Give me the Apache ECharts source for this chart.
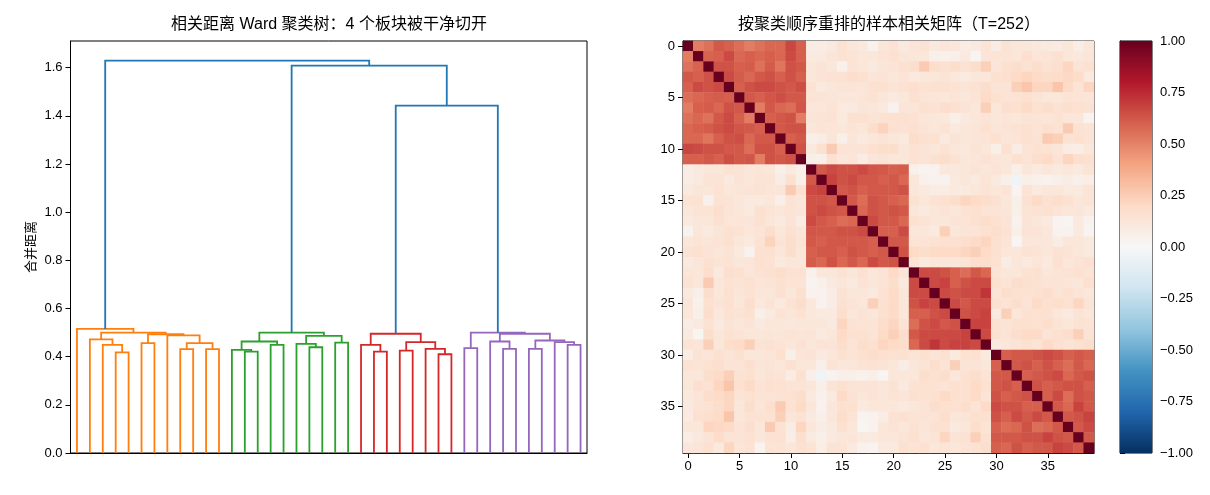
<!DOCTYPE html>
<html>
<head>
<meta charset="utf-8">
<script src="https://cdn.jsdelivr.net/npm/echarts@6/dist/echarts.min.js"></script>
<style>
html, body { margin: 0; padding: 0; background: #fff; }
#c_chart { width: 1210px; height: 495px; }
</style>
</head>
<body>
<div id="c_chart"></div>
<script>
// leaves are numbered in display order 0..39; merged nodes get ids 40, 41, ...
const leafCount = 40;
const clusterSizes = [12, 10, 8, 10];
const clusterColors = ['#ff7f0e', '#2ca02c', '#d62728', '#9467bd'];
const aboveColor = '#1f77b4';
const colorThreshold = 1.14;
const merges = [
    [3, 4, 0.418], [2, 40, 0.449], [1, 41, 0.472], [5, 6, 0.456], [8, 9, 0.431],
    [10, 11, 0.431], [44, 45, 0.456], [7, 46, 0.488], [43, 47, 0.493], [42, 48, 0.500],
    [0, 49, 0.515],
    [13, 14, 0.421], [12, 51, 0.428], [15, 16, 0.449], [52, 53, 0.463], [18, 19, 0.439],
    [17, 55, 0.453], [20, 21, 0.458], [56, 57, 0.486], [54, 58, 0.500],
    [23, 24, 0.421], [22, 60, 0.449], [25, 26, 0.425], [28, 29, 0.410], [27, 63, 0.432],
    [62, 64, 0.460], [61, 65, 0.495],
    [30, 31, 0.435], [33, 34, 0.432], [32, 68, 0.463], [35, 36, 0.432], [38, 39, 0.449],
    [37, 71, 0.460], [70, 72, 0.467], [69, 73, 0.495], [67, 74, 0.500],
    [66, 75, 1.442], [59, 76, 1.608], [50, 77, 1.629]
];
const distTicks = [0, 0.2, 0.4, 0.6, 0.8, 1.0, 1.2, 1.4, 1.6];

// upper triangle of the reordered correlation matrix, row i holds columns i+1..39
const corrUpper = [
    [.52,.55,.62,.60,.56,.52,.55,.58,.58,.67,.60, .08,.08,.10,.15,.12,.10,.04,.12,.15,.10, .13,.15,.10,.13,.12,.08,.10,.14, .08,.15,.12,.12,.11,.10,.09,.12,.07,.12],
    [.59,.60,.66,.58,.60,.58,.60,.58,.66,.60, .10,.10,.13,.15,.14,.12,.12,.14,.16,.13, .12,.12,.06,.05,.06,.10,.02,.13, .14,.14,.12,.17,.13,.14,.16,.12,.11,.13],
    [.64,.64,.60,.61,.55,.61,.54,.64,.62, .12,.14,.12,.05,.14,.12,.10,.13,.14,.16, .18,.26,.18,.16,.18,.15,.18,.24, .13,.16,.18,.15,.18,.15,.17,.22,.14,.16],
    [.66,.61,.58,.62,.64,.60,.64,.60, .12,.14,.15,.15,.18,.16,.13,.14,.12,.14, .10,.12,.12,.14,.11,.10,.12,.12, .16,.17,.20,.22,.20,.18,.19,.21,.19,.10],
    [.60,.64,.66,.66,.64,.62,.65, .15,.10,.12,.14,.14,.13,.16,.16,.14,.15, .17,.15,.16,.16,.15,.14,.15,.18, .14,.14,.24,.28,.22,.22,.28,.20,.14,.22],
    [.62,.60,.63,.65,.62,.62, .14,.14,.13,.12,.12,.13,.15,.12,.10,.12, .16,.14,.13,.12,.14,.12,.14,.20, .16,.14,.15,.16,.14,.12,.12,.14,.14,.13],
    [.52,.62,.58,.56,.63, .12,.12,.14,.10,.10,.13,.12,.10,.04,.13, .13,.16,.15,.18,.16,.14,.12,.24, .12,.17,.16,.20,.16,.18,.15,.17,.16,.15],
    [.60,.62,.64,.52, .13,.14,.15,.10,.16,.16,.14,.15,.16,.16, .15,.13,.12,.11,.06,.10,.12,.14, .12,.13,.12,.14,.14,.13,.15,.12,.12,.03],
    [.62,.64,.64, .12,.14,.13,.12,.14,.12,.18,.23,.16,.15, .16,.14,.12,.14,.10,.12,.13,.16, .13,.14,.15,.16,.14,.17,.15,.26,.15,.14],
    [.60,.62, .06,.08,.13,.06,.13,.10,.12,.14,.12,.10, .18,.16,.16,.10,.14,.12,.13,.14, .16,.13,.14,.16,.15,.26,.24,.15,.16,.14],
    [.64, .10,.16,.26,.14,.14,.14,.16,.18,.18,.12, .15,.14,.12,.15,.12,.11,.14,.12, .06,.16,.08,.14,.16,.15,.13,.08,.07,.12],
    [.06,.06,.16,.12,.13,.08,.13,.14,.12,.12, .15,.14,.16,.18,.15,.12,.13,.15, .13,.12,.16,.14,.18,.20,.15,.22,.17,.16],
    [.62,.66,.64,.64,.66,.63,.62,.60,.61, .05,.03,.04,.11,.11,.12,.14,.12, .14,.12,.06,.12,.10,.12,.10,.12,.10,.14],
    [.68,.64,.66,.62,.62,.60,.62,.58, .12,.05,.04,.04,.10,.12,.10,.14, .10,.06,-.04,.06,.05,.04,.06,.08,.06,.07],
    [.62,.64,.60,.62,.62,.62,.64, .12,.10,.08,.08,.10,.10,.12,.14, .12,.14,.03,.14,.10,.12,.12,.10,.10,.14],
    [.62,.56,.64,.62,.60,.58, .15,.12,.15,.16,.18,.22,.20,.18, .16,.12,.06,.16,.20,.16,.18,.16,.12,.14],
    [.58,.64,.62,.64,.62, .12,.10,.12,.14,.12,.15,.16,.14, .14,.13,.06,.14,.15,.16,.14,.12,.13,.10],
    [.66,.62,.62,.58, .16,.14,.12,.12,.14,.14,.16,.18, .16,.14,.04,.14,.12,.10,.03,.02,.10,.04],
    [.60,.60,.66, .12,.12,.10,.24,.12,.14,.14,.16, .18,.15,.06,.14,.14,.12,.04,.04,.10,.03],
    [.62,.62, .14,.14,.15,.16,.16,.18,.20,.22, .16,.14,.02,.12,.12,.12,.08,.12,.12,.10],
    [.64, .20,.18,.20,.20,.20,.22,.24,.20, .16,.12,.12,.15,.14,.12,.15,.14,.12,.10],
    [.14,.10,.12,.12,.12,.14,.18,.18, .16,.08,.12,.10,.13,.10,.16,.12,.14,.16],
    [.66,.66,.64,.60,.56,.62,.58, .14,.12,.12,.15,.16,.12,.14,.15,.16,.14],
    [.66,.68,.60,.64,.66,.66, .16,.14,.18,.16,.15,.14,.14,.13,.12,.16],
    [.66,.64,.66,.66,.72, .14,.18,.16,.15,.16,.18,.14,.16,.14,.12],
    [.66,.62,.66,.66, .16,.14,.18,.14,.20,.16,.18,.16,.22,.14],
    [.64,.66,.68, .10,.24,.12,.16,.16,.16,.12,.10,.14,.12],
    [.68,.68, .15,.14,.16,.16,.16,.18,.14,.12,.15,.14],
    [.66, .16,.14,.18,.20,.20,.14,.16,.18,.24,.15],
    [.10,.12,.14,.16,.14,.20,.16,.14,.16,.18],
    [.60,.62,.62,.64,.66,.64,.60,.62,.60],
    [.62,.64,.60,.64,.60,.56,.62,.58],
    [.60,.62,.64,.66,.58,.62,.64],
    [.64,.60,.62,.64,.64,.60],
    [.60,.66,.56,.64,.62],
    [.62,.58,.68,.62],
    [.62,.64,.68],
    [.62,.66],
    [.62]
];
const corrRange = [-1, 1];
const corrTickStep = 0.25;
const rdbuR = ['#053061', '#2166ac', '#4393c3', '#92c5de', '#d1e5f0', '#f7f7f7',
               '#fddbc7', '#f4a582', '#d6604d', '#b2182b', '#67001f'];

const fontFam = "'Liberation Sans', 'Noto Sans CJK SC', sans-serif";

// dendrogram geometry (scipy style: leaf i at 5 + 10 i, link x = midpoint of children)
var nodeX = [], nodeY = [], firstLeaf = [];
for (var i = 0; i < leafCount; i++) {
    nodeX[i] = 5 + 10 * i;
    nodeY[i] = 0;
    firstLeaf[i] = i;
}
function clusterOf(leaf) {
    var acc = 0;
    for (var c = 0; c < clusterSizes.length; c++) {
        acc += clusterSizes[c];
        if (leaf < acc) return c;
    }
    return clusterSizes.length - 1;
}
var segs = {};
var maxH = 0;
merges.forEach(function (m, k) {
    var a = m[0], b = m[1], h = m[2];
    var id = leafCount + k;
    nodeX[id] = (nodeX[a] + nodeX[b]) / 2;
    nodeY[id] = h;
    firstLeaf[id] = firstLeaf[a];
    maxH = Math.max(maxH, h);
    var col = h < colorThreshold ? clusterColors[clusterOf(firstLeaf[a])] : aboveColor;
    if (!segs[col]) segs[col] = [];
    segs[col].push({coords: [[nodeX[a], nodeY[a]], [nodeX[a], h], [nodeX[b], h], [nodeX[b], nodeY[b]]]});
});
var dendroSeries = Object.keys(segs).map(function (col) {
    return {
        type: 'lines',
        coordinateSystem: 'cartesian2d',
        xAxisIndex: 0,
        yAxisIndex: 0,
        polyline: true,
        silent: true,
        lineStyle: {color: col, width: 1.8, opacity: 1},
        data: segs[col]
    };
});

// heatmap cells
var cells = [];
var idx = [];
for (var r = 0; r < leafCount; r++) {
    idx.push(String(r));
    for (var c = 0; c < leafCount; c++) {
        var v;
        if (r === c) v = 1;
        else if (r < c) v = corrUpper[r][c - r - 1];
        else v = corrUpper[c][r - c - 1];
        cells.push([c, r, v]);
    }
}

var dm = document.getElementById('c_chart');
var ch = echarts.init(dm, null, {renderer: 'canvas'});
var txt = {color: '#000', fontSize: 13, fontFamily: fontFam};
var blackLine = {show: true, lineStyle: {color: '#000', width: 1}};
var tick = {show: true, length: 5, lineStyle: {color: '#000', width: 1}};

var option = {
    animation: false,
    backgroundColor: '#fff',
    textStyle: {fontFamily: fontFam},
    title: [
        {text: '相关距离 Ward 聚类树：4 个板块被干净切开', left: 329, top: 17, padding: 0, textAlign: 'center',
         textStyle: {fontSize: 16, fontWeight: 'normal', color: '#000', fontFamily: fontFam}},
        {text: '按聚类顺序重排的样本相关矩阵（T=252）', left: 889, top: 17, padding: 0, textAlign: 'center',
         textStyle: {fontSize: 16, fontWeight: 'normal', color: '#000', fontFamily: fontFam}}
    ],
    grid: [
        {left: 70.5, top: 41, width: 516.5, height: 412, show: true, borderColor: '#000', borderWidth: 1},
        {left: 683, top: 41, width: 411, height: 412, show: true, borderColor: '#000', borderWidth: 1},
        {left: 1120, top: 41, width: 32, height: 412, show: true, borderColor: '#000', borderWidth: 1}
    ],
    xAxis: [
        {gridIndex: 0, type: 'value', min: 0, max: leafCount * 10, axisLine: blackLine,
         axisTick: {show: false}, axisLabel: {show: false}, splitLine: {show: false}},
        {gridIndex: 1, type: 'category', data: idx, position: 'bottom', axisLine: blackLine,
         axisTick: {show: true, length: 5, interval: 4, alignWithLabel: true, lineStyle: {color: '#000'}},
         axisLabel: Object.assign({interval: 4, margin: 7}, txt), splitLine: {show: false}},
        {gridIndex: 2, type: 'value', min: 0, max: 1, show: false}
    ],
    yAxis: [
        {gridIndex: 0, type: 'value', min: 0, max: maxH * 1.05, axisLine: blackLine,
         axisTick: Object.assign({customValues: distTicks}, tick),
         axisLabel: Object.assign({customValues: distTicks, margin: 8,
             formatter: function (v) { return v.toFixed(1); }}, txt),
         splitLine: {show: false},
         name: '合并距离', nameLocation: 'middle', nameGap: 33,
         nameTextStyle: {color: '#000', fontSize: 13, fontFamily: fontFam}},
        {gridIndex: 1, type: 'category', data: idx, inverse: true, axisLine: blackLine,
         axisTick: {show: true, length: 5, interval: 4, alignWithLabel: true, lineStyle: {color: '#000'}},
         axisLabel: Object.assign({interval: 4, margin: 8}, txt), splitLine: {show: false}},
        {gridIndex: 2, type: 'value', position: 'right', min: corrRange[0], max: corrRange[1],
         interval: corrTickStep, axisLine: blackLine, axisTick: tick, splitLine: {show: false},
         axisLabel: Object.assign({margin: 8, formatter: function (v) {
             return v.toFixed(2).replace('-', '\u2212');
         }}, txt)}
    ],
    visualMap: {
        show: false, type: 'continuous', min: corrRange[0], max: corrRange[1],
        seriesIndex: dendroSeries.length, dimension: 2,
        inRange: {color: rdbuR}
    },
    series: dendroSeries.concat([
        {
            type: 'heatmap',
            xAxisIndex: 1,
            yAxisIndex: 1,
            data: cells,
            progressive: 0,
            silent: true,
            emphasis: {disabled: true}
        },
        {
            type: 'custom',
            xAxisIndex: 2,
            yAxisIndex: 2,
            silent: true,
            data: [[0, corrRange[0], corrRange[1]]],
            renderItem: function (params, api) {
                var p0 = api.coord([0, api.value(2)]);
                var p1 = api.coord([1, api.value(1)]);
                var stops = rdbuR.slice().reverse().map(function (col, k) {
                    return {offset: k / (rdbuR.length - 1), color: col};
                });
                return {
                    type: 'rect',
                    shape: {x: p0[0], y: p0[1], width: p1[0] - p0[0], height: p1[1] - p0[1]},
                    style: {fill: new echarts.graphic.LinearGradient(0, 0, 0, 1, stops)}
                };
            }
        }
    ])
};

ch.setOption(option);
window.onresize = function () {
    ch.resize();
};
</script>
</body>
</html>
